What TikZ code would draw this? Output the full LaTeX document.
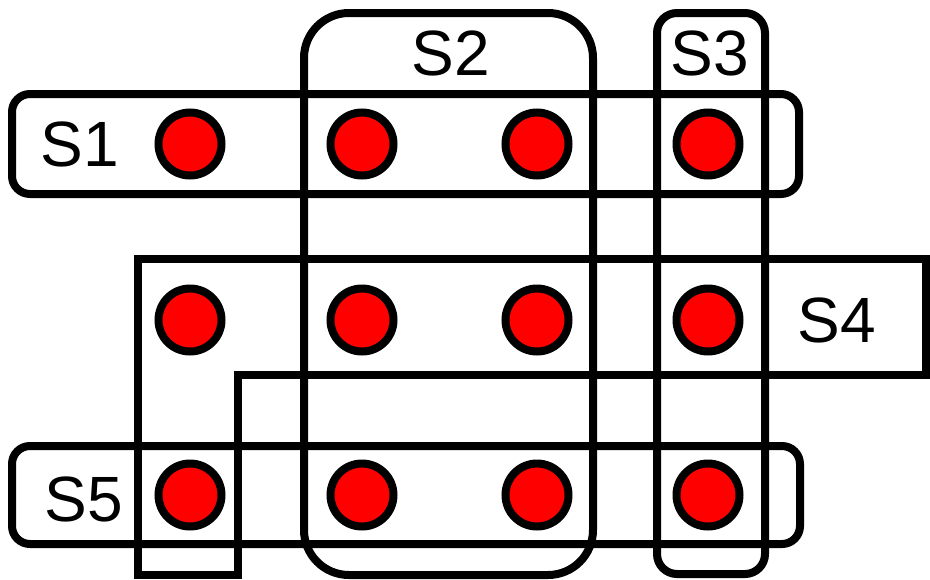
\documentclass[tikz,border=0pt]{standalone}
\usepackage{fontspec}
\setmainfont{Liberation Sans}
\begin{document}
\begin{tikzpicture}[x=1pt,y=-1pt,
  setline/.style={draw=black,line width=8pt},
  dot/.style={circle,draw=black,line width=8pt,fill=red,minimum size=63pt,inner sep=0pt},
  lbl/.style={inner sep=0pt,font=\fontsize{64}{64}\selectfont}]
\useasboundingbox (0,0) rectangle (930,579);
% sets
\draw[setline,rounded corners=18pt] (12,94) rectangle (799,194);   % S1
\draw[setline,rounded corners=45pt] (304,13) rectangle (593,575);  % S2
\draw[setline,rounded corners=20pt] (657,13) rectangle (765,574);  % S3
\draw[setline,miter limit=10] (138,575) -- (138,259) -- (926,259) -- (926,375) -- (238,375) -- (238,575) -- cycle; % S4
\draw[setline,rounded corners=18pt] (12,446) rectangle (800,544);  % S5
% elements
\foreach \r/\y in {1/144,2/320,3/495}{
  \foreach \c/\x in {1/190,2/362,3/537,4/708}{
    \node[dot] (d\r\c) at (\x,\y) {};
  }
}
% labels
\node[lbl] (s1) at (80,144) {S1};
\node[lbl] (s2) at (451,53) {S2};
\node[lbl] (s3) at (710,53) {S3};
\node[lbl] (s4) at (837,320) {S4};
\node[lbl] (s5) at (84,499) {S5};
\end{tikzpicture}
\end{document}
